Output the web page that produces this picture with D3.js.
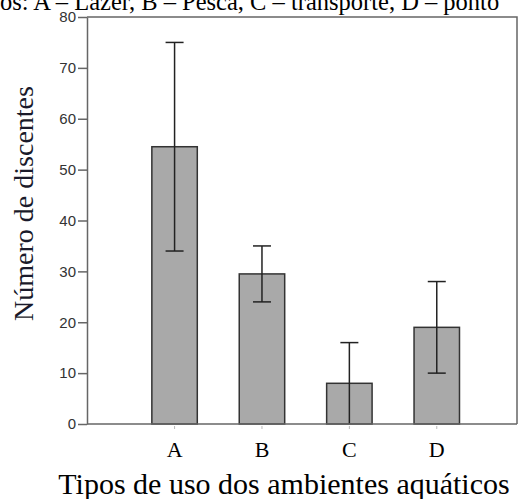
<!DOCTYPE html>
<html>
<head>
<meta charset="utf-8">
<script src="https://cdn.jsdelivr.net/npm/d3@7"></script>
<style>
  body { margin: 0; background: #fff; }
  svg { display: block; }
</style>
</head>
<body>
<div id="chart"></div>
<script>
// data
const categories = ['A', 'B', 'C', 'D'];
const means = [54.5, 29.5, 8, 19];
const upper = [75, 35, 16, 28];
const lower = [34, 24, 0, 10];
const yTicks = [0, 10, 20, 30, 40, 50, 60, 70, 80];

const caption = 'os: A – Lazer, B – Pesca, C – transporte, D – ponto';
const yTitle = 'Número de discentes';
const xTitle = 'Tipos de uso dos ambientes aquáticos';

const width = 524;
const height = 499;
const plot = { left: 87, right: 517, top: 17, bottom: 424 };

const data = categories.map((c, i) => ({ cat: c, mean: means[i], hi: upper[i], lo: lower[i] }));

const svg = d3.select('#chart')
  .append('svg')
  .attr('width', width)
  .attr('height', height);

svg.append('rect').attr('width', width).attr('height', height).attr('fill', '#fff');

const xScale = d3.scaleBand()
  .domain(categories)
  .range([plot.left, plot.right])
  .paddingInner(0.48)
  .paddingOuter(0.7)
  .align(0.53);

const yScale = d3.scaleLinear()
  .domain([0, 80])
  .range([plot.bottom, plot.top]);

// caption line cut off at the top
svg.append('text')
  .attr('x', 0)
  .attr('y', 10)
  .style('font-family', '"Liberation Serif", serif')
  .style('font-size', '24.5px')
  .attr('fill', '#000')
  .text(caption);

// bars
svg.selectAll('rect.bar')
  .data(data)
  .enter()
  .append('rect')
  .attr('class', 'bar')
  .attr('x', d => xScale(d.cat))
  .attr('y', d => yScale(d.mean))
  .attr('width', xScale.bandwidth())
  .attr('height', d => yScale(0) - yScale(d.mean))
  .attr('fill', '#a9a9a9')
  .attr('stroke', '#333')
  .attr('stroke-width', 1.5);

// error bars
const capW = 18;
const err = svg.selectAll('g.err')
  .data(data)
  .enter()
  .append('g')
  .attr('class', 'err')
  .attr('stroke', '#222')
  .attr('stroke-width', 1.5);
err.append('line')
  .attr('x1', d => xScale(d.cat) + xScale.bandwidth() / 2)
  .attr('x2', d => xScale(d.cat) + xScale.bandwidth() / 2)
  .attr('y1', d => yScale(d.hi))
  .attr('y2', d => yScale(d.lo));
err.append('line')
  .attr('x1', d => xScale(d.cat) + xScale.bandwidth() / 2 - capW / 2)
  .attr('x2', d => xScale(d.cat) + xScale.bandwidth() / 2 + capW / 2)
  .attr('y1', d => yScale(d.hi))
  .attr('y2', d => yScale(d.hi));
err.filter(d => d.lo > 0).append('line')
  .attr('x1', d => xScale(d.cat) + xScale.bandwidth() / 2 - capW / 2)
  .attr('x2', d => xScale(d.cat) + xScale.bandwidth() / 2 + capW / 2)
  .attr('y1', d => yScale(d.lo))
  .attr('y2', d => yScale(d.lo));

// frame (top and right)
svg.append('path')
  .attr('d', `M${plot.left},${plot.top}H${plot.right}V${plot.bottom}`)
  .attr('fill', 'none')
  .attr('stroke', '#666')
  .attr('stroke-width', 1.5);

// x axis
const xAxis = svg.append('g')
  .attr('transform', `translate(0, ${plot.bottom})`)
  .call(d3.axisBottom(xScale).tickSize(3).tickSizeOuter(0).tickPadding(14));
xAxis.select('.domain')
  .attr('d', `M${plot.left},0H${plot.right}`)
  .attr('stroke', '#666')
  .attr('stroke-width', 1.5);
xAxis.selectAll('.tick line').attr('stroke', '#bbb').attr('transform', 'translate(0,2)');
xAxis.selectAll('.tick text')
  .style('font-family', '"Liberation Serif", serif')
  .style('font-size', '22px')
  .attr('fill', '#000');

// y axis
const yAxis = svg.append('g')
  .attr('transform', `translate(${plot.left}, 0)`)
  .call(d3.axisLeft(yScale).tickValues(yTicks).tickSize(9).tickSizeOuter(0).tickPadding(2));
yAxis.select('.domain').attr('stroke', '#666').attr('stroke-width', 1.5);
yAxis.selectAll('.tick line').attr('stroke', '#666').attr('stroke-width', 1.5);
yAxis.selectAll('.tick text')
  .style('font-family', '"Liberation Sans", Arial, sans-serif')
  .style('font-size', '15px')
  .attr('fill', '#333');

// axis titles
svg.append('text')
  .attr('transform', `translate(33, ${(plot.top + plot.bottom) / 2 - 17}) rotate(-90)`)
  .attr('text-anchor', 'middle')
  .style('font-family', '"Liberation Serif", serif')
  .style('font-size', '28px')
  .attr('fill', '#1a1a2a')
  .text(yTitle);

svg.append('text')
  .attr('x', 284)
  .attr('y', 494)
  .attr('text-anchor', 'middle')
  .style('font-family', '"Liberation Serif", serif')
  .style('font-size', '30px')
  .attr('fill', '#000')
  .text(xTitle);
</script>
</body>
</html>
